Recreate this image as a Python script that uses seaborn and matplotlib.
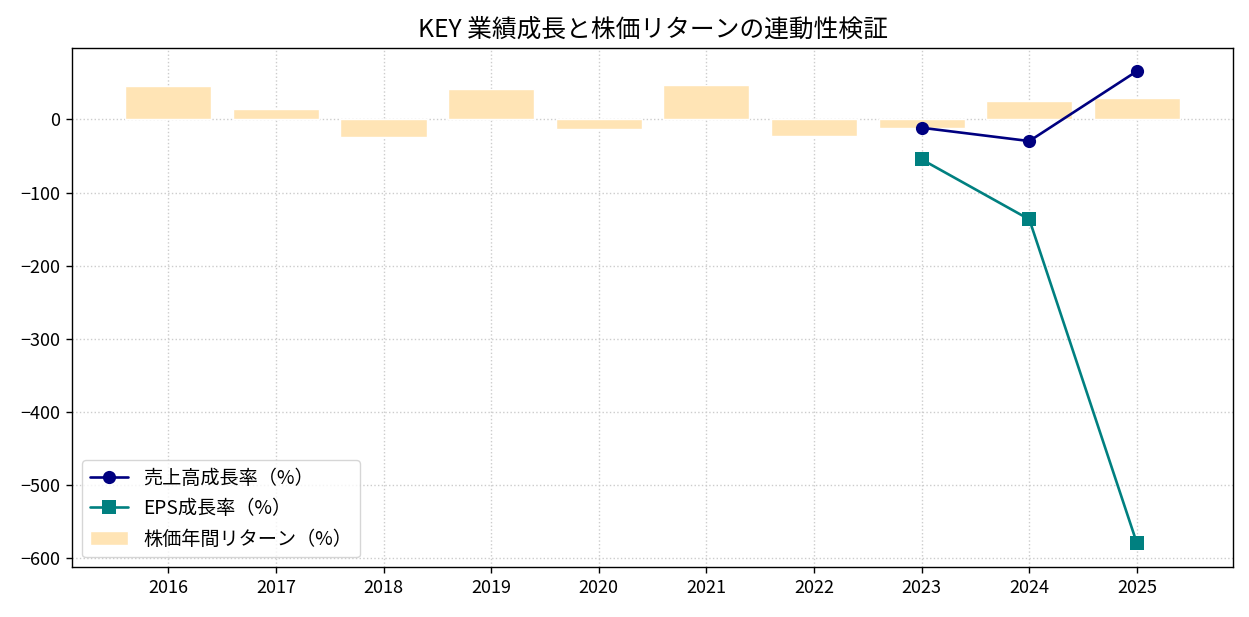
import matplotlib
matplotlib.use("Agg")
import matplotlib.pyplot as plt
import seaborn as sns
import pandas as pd

years = [2016, 2017, 2018, 2019, 2020, 2021, 2022, 2023, 2024, 2025]
stock_return = [45, 13.7, -24.6, 41, -13.7, 47.5, -22.8, -12.3, 24.6, 28.7]
rev_years = [2023, 2024, 2025]
revenue_growth = [-11.4, -29.6, 66]
eps_growth = [-54.7, -136.7, -579.5]

sns.set_style("ticks", {'axes.edgecolor': 'black', 'text.color': 'black',
                        'xtick.color': 'black', 'ytick.color': 'black',
                        'axes.labelcolor': 'black'})
plt.rcParams['font.family'] = ['Noto Sans CJK JP', 'DejaVu Sans']
plt.rcParams['axes.unicode_minus'] = True
plt.rcParams['axes.linewidth'] = 1.0
plt.rcParams['xtick.major.size'] = 4.4
plt.rcParams['ytick.major.size'] = 4.4
plt.rcParams['xtick.major.width'] = 1.0
plt.rcParams['ytick.major.width'] = 1.0

fig, ax = plt.subplots(figsize=(12.49, 6.17), dpi=100)

ax.bar(years, stock_return, width=0.8, color='#FFE4B5', alpha=1.0,
       label='株価年間リターン（%）', zorder=2)

df_rev = pd.DataFrame({'year': rev_years, 'val': revenue_growth})
df_eps = pd.DataFrame({'year': rev_years, 'val': eps_growth})
sns.lineplot(data=df_rev, x='year', y='val', ax=ax, color='navy', marker='o',
             markersize=9.5, markeredgewidth=0, linewidth=1.9, label='売上高成長率（%）', zorder=3)
sns.lineplot(data=df_eps, x='year', y='val', ax=ax, color='teal', marker='s',
             markersize=9.5, markeredgewidth=0, linewidth=1.9, label='EPS成長率（%）', zorder=3)

ax.set_xticks(years)
ax.set_xticklabels([str(y) for y in years])
ax.set_xlabel('')
ax.set_ylabel('')
ax.set_title('KEY 業績成長と株価リターンの連動性検証', fontsize=17.8, pad=7.5)
ax.grid(True, linestyle=':', color='#cccccc', linewidth=1.0, zorder=0)
ax.set_axisbelow(True)
ax.tick_params(labelsize=13, pad=4.4)

handles, labels = ax.get_legend_handles_labels()
order = [labels.index('売上高成長率（%）'), labels.index('EPS成長率（%）'), labels.index('株価年間リターン（%）')]
ax.legend([handles[i] for i in order], [labels[i] for i in order], loc='lower left',
          fontsize=13.8, labelspacing=0.5, borderaxespad=0.5)

fig.subplots_adjust(left=0.058, right=0.987, top=0.923, bottom=0.081)
fig.savefig('out.png', dpi=100)
